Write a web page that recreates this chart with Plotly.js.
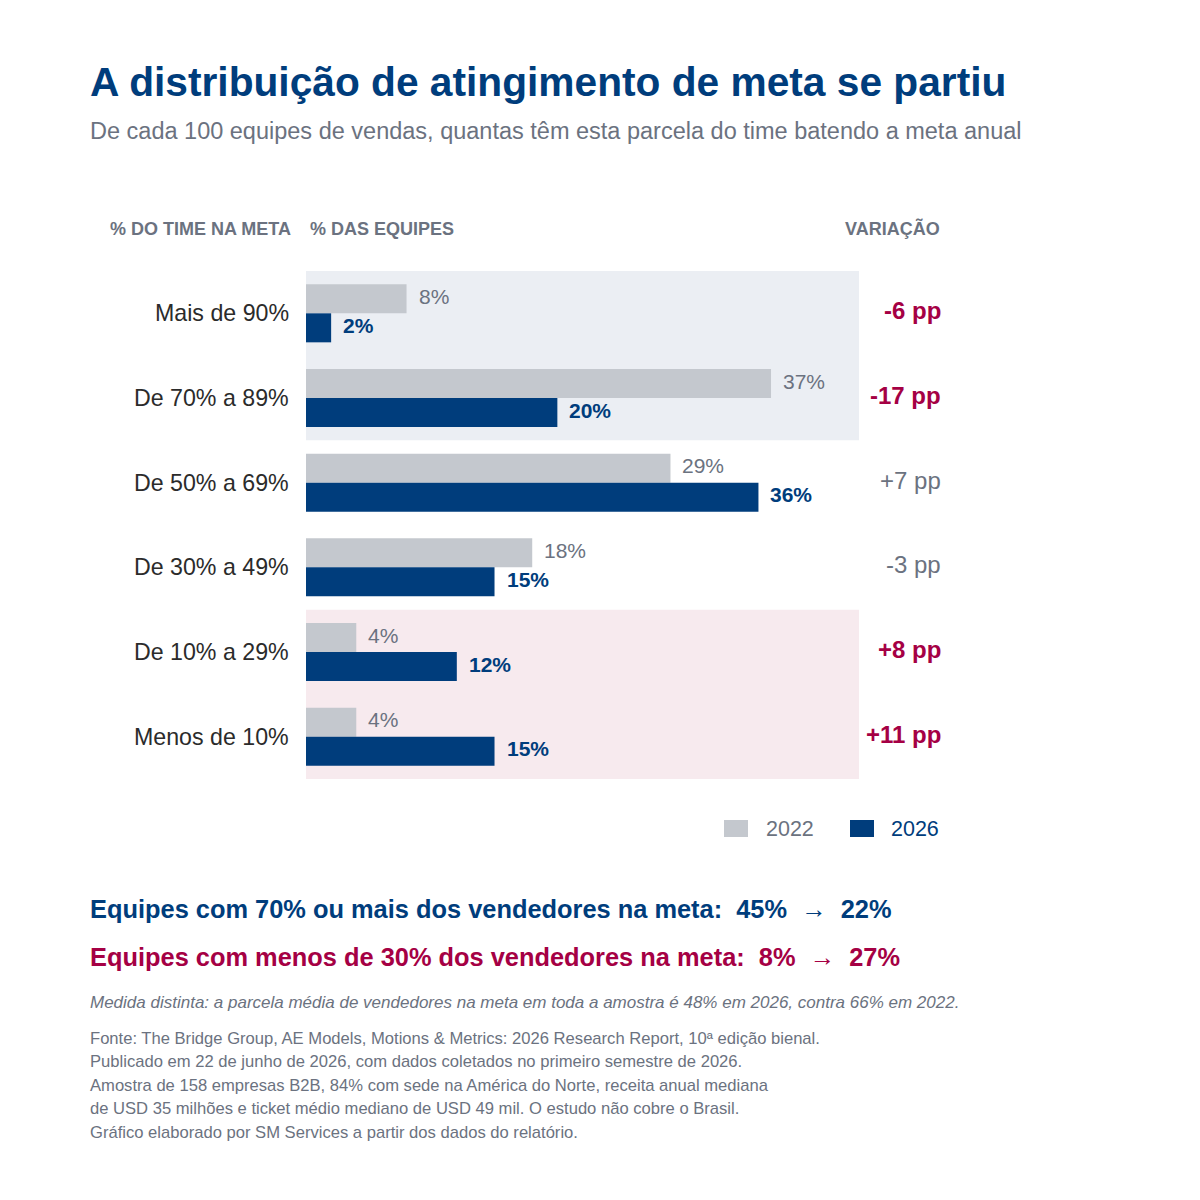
<!DOCTYPE html>
<html>
<head>
<meta charset="utf-8">
<script src="https://cdn.plot.ly/plotly-3.0.1.min.js"></script>
<style>html,body{margin:0;padding:0;background:#fff;}#chart{width:1200px;height:1200px;}</style>
</head>
<body>
<div id="chart"></div>
<script>
const categories = ['Mais de 90%', 'De 70% a 89%', 'De 50% a 69%', 'De 30% a 49%', 'De 10% a 29%', 'Menos de 10%'];
const values2022 = [8, 37, 29, 18, 4, 4];
const values2026 = [2, 20, 36, 15, 12, 15];
const seriesNames = ['2022', '2026'];
const emphasized = [true, true, false, false, true, true];

const BLUE = '#003D7C';
const GREY_BAR = '#C4C8CE';
const GREY_TXT = '#6B7280';
const CRIMSON = '#A50044';
const DARK = '#2B2B2B';
const FONT = 'Liberation Sans, Arial, sans-serif';

const W = 1200, H = 1200;
const L = 306, R = 859, T = 271, B = 779;
const px = x => (x - L) / (R - L);
const py = y => (B - y) / (B - T);

const traces = [
  {type: 'bar', orientation: 'h', name: seriesNames[0], y: categories, x: values2022,
   marker: {color: GREY_BAR}, hoverinfo: 'skip'},
  {type: 'bar', orientation: 'h', name: seriesNames[1], y: categories, x: values2026,
   marker: {color: BLUE}, hoverinfo: 'skip'}
];

const ann = [];
const base = {showarrow: false, borderpad: 0, borderwidth: 0, yanchor: 'middle'};
function txt(x, y, text, opts) {
  ann.push(Object.assign({}, base, {xref: 'paper', yref: 'paper', x: px(x), y: py(y), text: text,
    xanchor: 'left', font: {family: FONT, size: 16, color: GREY_TXT}}, opts || {}));
}

// Title / subtitle
txt(90, 82, '<b>A distribuição de atingimento de meta se partiu</b>', {font: {family: FONT, size: 40.7, color: BLUE}});
txt(90, 131, 'De cada 100 equipes de vendas, quantas têm esta parcela do time batendo a meta anual', {font: {family: FONT, size: 23.5, color: GREY_TXT}});

// Column headers
txt(291, 229, '<b>% DO TIME NA META</b>', {xanchor: 'right', font: {family: FONT, size: 18, color: GREY_TXT}});
txt(310, 229, '<b>% DAS EQUIPES</b>', {font: {family: FONT, size: 18, color: GREY_TXT}});
txt(940, 229, '<b>VARIAÇÃO</b>', {xanchor: 'right', font: {family: FONT, size: 18, color: GREY_TXT}});

// Category labels, value labels, variation
categories.forEach((c, i) => {
  ann.push(Object.assign({}, base, {xref: 'paper', yref: 'y', x: 0, y: c, xshift: -17, xanchor: 'right',
    text: c, font: {family: FONT, size: 23.2, color: DARK}}));
  ann.push(Object.assign({}, base, {xref: 'x', yref: 'y', x: values2022[i], y: c, xshift: 12, yshift: 17, xanchor: 'left',
    text: values2022[i] + '%', font: {family: FONT, size: 21, color: GREY_TXT}}));
  ann.push(Object.assign({}, base, {xref: 'x', yref: 'y', x: values2026[i], y: c, xshift: 12, yshift: -12, xanchor: 'left',
    text: '<b>' + values2026[i] + '%</b>', font: {family: FONT, size: 21, color: BLUE}}));
  const d = values2026[i] - values2022[i];
  const s = (d > 0 ? '+' : '') + d + ' pp';
  ann.push(Object.assign({}, base, {xref: 'paper', yref: 'y', x: px(941), y: c, yshift: 2.5, xanchor: 'right',
    text: emphasized[i] ? '<b>' + s + '</b>' : s,
    font: {family: FONT, size: 24, color: emphasized[i] ? CRIMSON : GREY_TXT}}));
});

// Background bands + custom legend swatches
const shapes = [
  {type: 'rect', layer: 'below', xref: 'paper', yref: 'y', x0: 0, x1: 1, y0: -0.5, y1: 1.5, fillcolor: '#EBEEF3', line: {width: 0}},
  {type: 'rect', layer: 'below', xref: 'paper', yref: 'y', x0: 0, x1: 1, y0: 3.5, y1: 5.5, fillcolor: '#F7EAEE', line: {width: 0}},
  {type: 'rect', xref: 'paper', yref: 'paper', x0: px(724), x1: px(748), y0: py(837), y1: py(820), fillcolor: GREY_BAR, line: {width: 0}},
  {type: 'rect', xref: 'paper', yref: 'paper', x0: px(850), x1: px(874), y0: py(837), y1: py(820), fillcolor: BLUE, line: {width: 0}}
];
txt(766, 829, seriesNames[0], {font: {family: FONT, size: 21.5, color: GREY_TXT}});
txt(891, 829, seriesNames[1], {font: {family: FONT, size: 21.5, color: BLUE}});

// Summary lines
const sp = '\u00A0\u00A0';
txt(90, 909, '<b>Equipes com 70% ou mais dos vendedores na meta:' + sp + '45%' + sp + '</b>→<b>' + sp + '22%</b>', {font: {family: FONT, size: 25.4, color: BLUE}});
txt(90, 957, '<b>Equipes com menos de 30% dos vendedores na meta:' + sp + '8%' + sp + '</b>→<b>' + sp + '27%</b>', {font: {family: FONT, size: 25.4, color: CRIMSON}});

txt(90, 1002, '<i>Medida distinta: a parcela média de vendedores na meta em toda a amostra é 48% em 2026, contra 66% em 2022.</i>', {font: {family: FONT, size: 17, color: GREY_TXT}});

const sourceLines = [
  'Fonte: The Bridge Group, AE Models, Motions & Metrics: 2026 Research Report, 10ª edição bienal.',
  'Publicado em 22 de junho de 2026, com dados coletados no primeiro semestre de 2026.',
  'Amostra de 158 empresas B2B, 84% com sede na América do Norte, receita anual mediana',
  'de USD 35 milhões e ticket médio mediano de USD 49 mil. O estudo não cobre o Brasil.',
  'Gráfico elaborado por SM Services a partir dos dados do relatório.'
];
sourceLines.forEach((l, i) => txt(90, 1038 + i * 23.5, l, {font: {family: FONT, size: 16.6, color: GREY_TXT}}));

const layout = {
  width: W, height: H,
  margin: {l: L, r: W - R, t: T, b: H - B, pad: 0},
  paper_bgcolor: '#fff', plot_bgcolor: 'rgba(0,0,0,0)',
  barmode: 'group', bargap: 0.315, bargroupgap: 0,
  showlegend: false,
  xaxis: {range: [0, 44], visible: false, fixedrange: true},
  yaxis: {type: 'category', categoryorder: 'array', categoryarray: categories, range: [5.5, -0.5],
          showticklabels: false, showgrid: false, zeroline: false, showline: false, ticks: ''},
  shapes: shapes,
  annotations: ann,
  font: {family: FONT}
};

Plotly.newPlot('chart', traces, layout, {staticPlot: true, displayModeBar: false});
</script>
</body>
</html>
